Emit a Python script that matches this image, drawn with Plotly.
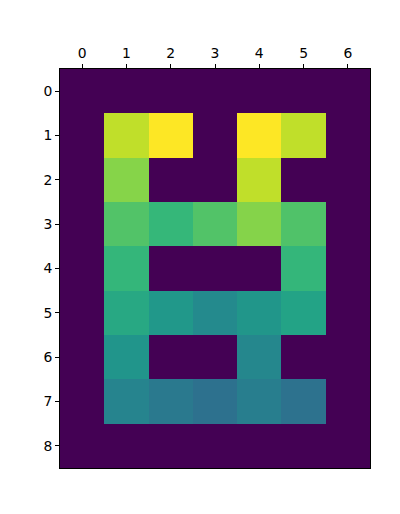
import plotly.graph_objects as go

cols = [0, 1, 2, 3, 4, 5, 6]
rows = [0, 1, 2, 3, 4, 5, 6, 7, 8]
row0 = [0, 0, 0, 0, 0, 0, 0]
row1 = [0, 0.906, 1.0, 0, 1.0, 0.906, 0]
row2 = [0, 0.816, 0, 0, 0.906, 0, 0]
row3 = [0, 0.723, 0.665, 0.723, 0.813, 0.72, 0]
row4 = [0, 0.66, 0, 0, 0, 0.66, 0]
row5 = [0, 0.60, 0.531, 0.476, 0.524, 0.578, 0]
row6 = [0, 0.52, 0, 0, 0.464, 0, 0]
row7 = [0, 0.452, 0.406, 0.372, 0.427, 0.376, 0]
row8 = [0, 0, 0, 0, 0, 0, 0]
z = [row0, row1, row2, row3, row4, row5, row6, row7, row8]

fig = go.Figure(go.Heatmap(
    z=z, x=cols, y=rows, colorscale="Viridis", zmin=0, zmax=1,
    showscale=False, xgap=0, ygap=0, hoverinfo="skip"))

axis_common = dict(
    showline=True, linecolor="black", linewidth=1, mirror=True,
    ticks="outside", ticklen=4, tickwidth=1, tickcolor="black",
    showgrid=False, zeroline=False,
    tickfont=dict(family="DejaVu Sans", size=13.9, color="black"),
)
fig.update_layout(
    width=400, height=514,
    margin=dict(l=60, r=30, t=69, b=46),
    paper_bgcolor="white", plot_bgcolor="white",
    xaxis=dict(side="top", range=[-0.5, 6.5], tickmode="array", tickvals=cols,
               ticktext=[str(c) for c in cols], **axis_common),
    yaxis=dict(range=[8.5, -0.5], tickmode="array", tickvals=rows,
               ticktext=[str(r) for r in rows], **axis_common),
)
fig.write_html("out.html")
